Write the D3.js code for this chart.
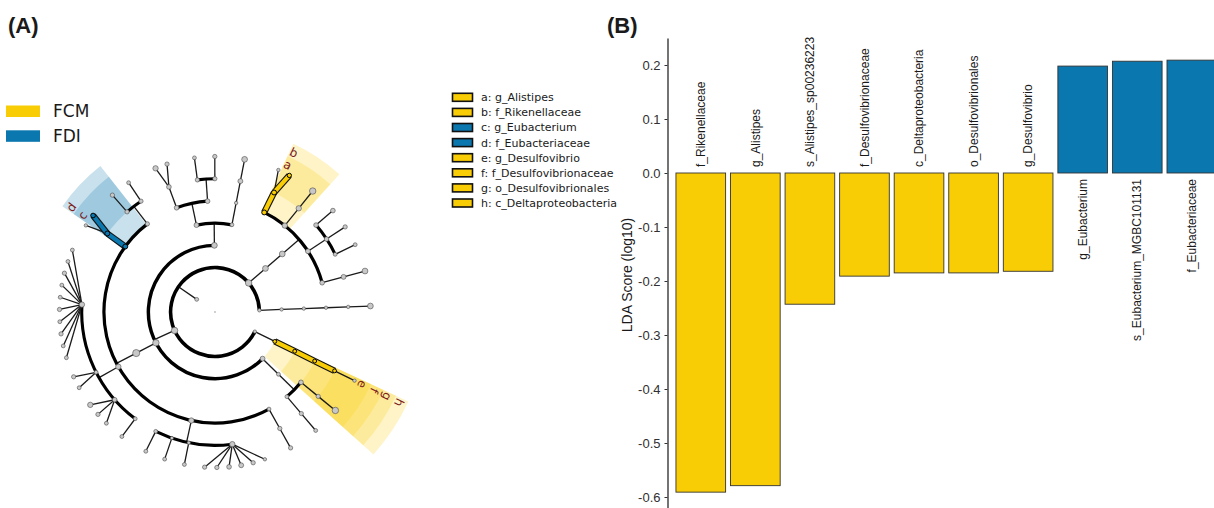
<!DOCTYPE html>
<html>
<head>
<meta charset="utf-8">
<script src="https://cdn.jsdelivr.net/npm/d3@7"></script>
<style>
  body { margin: 0; background: #fff; }
  svg { display: block; }
</style>
</head>
<body>
<svg id="chart" width="1214" height="508"></svg>
<script>
// ---- panel B: LDA scores ----
const barTaxa = ["f_Rikenellaceae", "g_Alistipes", "s_Alistipes_sp00236223", "f_Desulfovibrionaceae",
  "c_Deltaproteobacteria", "o_Desulfovibrionales", "g_Desulfovibrio",
  "g_Eubacterium", "s_Eubacterium_MGBC101131", "f_Eubacteriaceae"];
const barScores = [-0.591, -0.579, -0.243, -0.191, -0.185, -0.185, -0.182, 0.198, 0.207, 0.209];
const barGroups = ["FCM", "FCM", "FCM", "FCM", "FCM", "FCM", "FCM", "FDI", "FDI", "FDI"];
const yTicks = [-0.6, -0.5, -0.4, -0.3, -0.2, -0.1, 0, 0.1, 0.2];

const groups = ["FCM", "FDI"];
const groupColors = ["#f9cd05", "#0a77ae"];

// ---- panel A: cladogram legend ----
const cladeLetters = ["a", "b", "c", "d", "e", "f", "g", "h"];
const cladeNames = ["g_Alistipes", "f_Rikenellaceae", "g_Eubacterium", "f_Eubacteriaceae",
  "g_Desulfovibrio", "f_Desulfovibrionaceae", "o_Desulfovibrionales", "c_Deltaproteobacteria"];
const cladeGroups = ["FCM", "FCM", "FDI", "FDI", "FCM", "FCM", "FCM", "FCM"];

// taxonomy tree: [id, parent, relative abundance], children listed clockwise
const taxa = [
  ["r", null, 1],
  ["k", "r", 13],
  ["p1", "k", 10],
  ["c_Deltaproteobacteria", "p1", 13],
  ["o_Desulfovibrionales", "c_Deltaproteobacteria", 13],
  ["f_Desulfovibrionaceae", "o_Desulfovibrionales", 13],
  ["g_Desulfovibrio", "f_Desulfovibrionaceae", 13],
  ["p1s1", "g_Desulfovibrio", 10],
  ["p2", "k", 36],
  ["p2c1", "p2", 21],
  ["p2c1o1", "p2c1", 13],
  ["p2c1o1f1", "p2c1o1", 19],
  ["p2c1o1f1g1", "p2c1o1f1", 16],
  ["p2c1o1f1g1s1", "p2c1o1f1g1", 36],
  ["p2c1o1f2", "p2c1o1", 13],
  ["p2c1o1f2g1", "p2c1o1f2", 16],
  ["p2c1o1f2g1s1", "p2c1o1f2g1", 13],
  ["p2c2", "p2", 36],
  ["p2c2o1", "p2c2", 44],
  ["p2c2o1f1", "p2c2o1", 13],
  ["p2c2o1f1g1", "p2c2o1f1", 16],
  ["p2c2o1f1g1s1", "p2c2o1f1g1", 16],
  ["p2c2o1f2", "p2c2o1", 25],
  ["p2c2o1f2g1", "p2c2o1f2", 25],
  ["p2c2o1f2g1s1", "p2c2o1f2g1", 10],
  ["p2c2o1f2g1s2", "p2c2o1f2g1", 16],
  ["p2c2o1f2g1s3", "p2c2o1f2g1", 21],
  ["p2c2o1f2g1s4", "p2c2o1f2g1", 19],
  ["p2c2o1f2g1s5", "p2c2o1f2g1", 16],
  ["p2c2o1f2g1s6", "p2c2o1f2g1", 16],
  ["p2c2o1f2g2", "p2c2o1f2", 10],
  ["p2c2o1f2g2s1", "p2c2o1f2g2", 13],
  ["p2c2o1f2g3", "p2c2o1f2", 10],
  ["p2c2o1f2g3s1", "p2c2o1f2g3", 13],
  ["p2c2o1f2g4", "p2c2o1f2", 13],
  ["p2c2o1f2g4s1", "p2c2o1f2g4", 13],
  ["p2c2o1f3", "p2c2o1", 25],
  ["p2c2o1f3g1", "p2c2o1f3", 13],
  ["p2c2o1f3g1s1", "p2c2o1f3g1", 13],
  ["p2c2o1f3g2", "p2c2o1f3", 19],
  ["p2c2o1f3g2s1", "p2c2o1f3g2", 13],
  ["p2c2o1f3g2s2", "p2c2o1f3g2", 16],
  ["p2c2o1f3g2s3", "p2c2o1f3g2", 25],
  ["p2c2o1f3g3", "p2c2o1f3", 13],
  ["p2c2o1f3g3s1", "p2c2o1f3g3", 13],
  ["p2c2o1f3g3s2", "p2c2o1f3g3", 16],
  ["p2c2o1f3g4", "p2c2o1f3", 25],
  ["p2c2o1f3g4s1", "p2c2o1f3g4", 13],
  ["p2c2o1f3g4s2", "p2c2o1f3g4", 13],
  ["p2c2o1f3g4s3", "p2c2o1f3g4", 16],
  ["p2c2o1f3g4s4", "p2c2o1f3g4", 13],
  ["p2c2o1f3g4s5", "p2c2o1f3g4", 16],
  ["p2c2o1f3g4s6", "p2c2o1f3g4", 13],
  ["p2c2o1f3g4s7", "p2c2o1f3g4", 13],
  ["p2c2o1f3g4s8", "p2c2o1f3g4", 16],
  ["p2c2o1f3g4s9", "p2c2o1f3g4", 13],
  ["p2c2o1f3g4s10", "p2c2o1f3g4", 13],
  ["f_Eubacteriaceae", "p2c2o1", 21],
  ["g_Eubacterium", "f_Eubacteriaceae", 21],
  ["p2c2o1f4g1s1", "g_Eubacterium", 10],
  ["s_Eubacterium_MGBC101131", "g_Eubacterium", 19],
  ["p2c2o1f5", "p2c2o1", 16],
  ["p2c2o1f5g1", "p2c2o1f5", 16],
  ["p2c2o1f5g1s1", "p2c2o1f5g1", 16],
  ["p2c2o1f5g2", "p2c2o1f5", 16],
  ["p2c2o1f5g2s1", "p2c2o1f5g2", 13],
  ["p2c3", "p2", 29],
  ["p2c3o1", "p2c3", 21],
  ["p2c3o1f1", "p2c3o1", 19],
  ["p2c3o1f1g1", "p2c3o1f1", 19],
  ["p2c3o1f1g1s1", "p2c3o1f1g1", 25],
  ["p2c3o1f1g1s2", "p2c3o1f1g1", 16],
  ["p2c3o1f2", "p2c3o1", 19],
  ["p2c3o1f2g1", "p2c3o1f2", 16],
  ["p2c3o1f2g1s1", "p2c3o1f2g1", 13],
  ["p2c3o1f2g2", "p2c3o1f2", 16],
  ["p2c3o1f2g2s1", "p2c3o1f2g2", 16],
  ["p2c3o2", "p2c3", 13],
  ["p2c3o2f1", "p2c3o2", 10],
  ["p2c3o2f1g1", "p2c3o2f1", 21],
  ["p2c3o2f1g1s1", "p2c3o2f1g1", 29],
  ["p3", "k", 36],
  ["p3c1", "p3", 29],
  ["p3c1o1", "p3c1", 29],
  ["f_Rikenellaceae", "p3c1o1", 21],
  ["g_Alistipes", "f_Rikenellaceae", 21],
  ["p3c1o1f1g1s1", "g_Alistipes", 10],
  ["s_Alistipes_sp00236223", "g_Alistipes", 16],
  ["p3c1o1f2", "p3c1o1", 25],
  ["p3c1o1f2g1", "p3c1o1f2", 25],
  ["p3c1o1f2g1s1", "p3c1o1f2g1", 36],
  ["p3c1o1f3", "p3c1o1", 21],
  ["p3c1o1f3g1", "p3c1o1f3", 19],
  ["p3c1o1f3g1s1", "p3c1o1f3g1", 19],
  ["p3c1o1f3g2", "p3c1o1f3", 19],
  ["p3c1o1f3g2s1", "p3c1o1f3g2", 16],
  ["p3c1o1f3g3", "p3c1o1f3", 13],
  ["p3c1o1f3g3s1", "p3c1o1f3g3", 13],
  ["p3c1o1f4", "p3c1o1", 19],
  ["p3c1o1f4g1", "p3c1o1f4", 21],
  ["p3c1o1f4g1s1", "p3c1o1f4g1", 29],
  ["p4", "k", 10],
  ["p4c1", "p4", 10],
  ["p4c1o1", "p4c1", 10],
  ["p4c1o1f1", "p4c1o1", 10],
  ["p4c1o1f1g1", "p4c1o1f1", 10],
  ["p4c1o1f1g1s1", "p4c1o1f1g1", 29]
];

const svg = d3.select("#chart");
const colorOf = d3.scaleOrdinal().domain(groups).range(groupColors);
const groupOfTaxon = new Map(barTaxa.map((t, i) => [t, barGroups[i]]));

// panel labels
svg.append("text").attr("x", 8).attr("y", 33).text("(A)")
  .style("font", "bold 22px 'Liberation Sans', Arial, sans-serif").attr("fill", "#1a1a1a");
svg.append("text").attr("x", 607).attr("y", 33).text("(B)")
  .style("font", "bold 22px 'Liberation Sans', Arial, sans-serif").attr("fill", "#1a1a1a");

// ================= cladogram =================
const cx = 215, cy = 312;
const toRad = d => d * Math.PI / 180;

const root = d3.stratify().id(d => d[0]).parentId(d => d[1])(taxa);
// extra spacing between leaves depends on the rank where the two lineages split
const splitSep = [2.9, 2.9, 2.5, 2.45, 2.3, 1.67, 1];
function splitDepth(a, b) {
  const anc = new Set(a.ancestors());
  let n = b;
  while (!anc.has(n)) n = n.parent;
  return n.depth;
}
d3.cluster().nodeSize([1, 1]).separation((a, b) => splitSep[splitDepth(a, b)])(root);

const angle = d3.scaleLinear().domain(d3.extent(root.leaves(), d => d.x)).range([26.2, 357.8]);
const radius = d3.scaleLinear().domain([0, 7]).range([0, 155.5]);
const nodeR = d3.scaleSqrt().domain([0, 50]).range([0, 3.8]);
const pt = (r, a) => [cx + r * Math.cos(toRad(a)), cy + r * Math.sin(toRad(a))];
const nodePt = n => pt(radius(n.depth), angle(n.x));
const labelR = depth => radius(7) + 8.5 + 13.7 * (6 - depth);

const byId = new Map(root.descendants().map(n => [n.id, n]));

// legend FCM / FDI
const gLeg = svg.append("g");
groups.forEach((g, i) => {
  gLeg.append("rect").attr("x", 6).attr("y", 105.5 + i * 24.8).attr("width", 34).attr("height", 11.5)
    .attr("fill", colorOf(g));
  gLeg.append("text").attr("x", 53).attr("y", 111.3 + i * 24.8).attr("dy", "0.36em").text(g)
    .style("font", "17px 'DejaVu Sans', sans-serif").attr("fill", "#1a1a1a");
});

// shaded wedges behind highlighted clades
const gW = svg.append("g").attr("transform", `translate(${cx},${cy})`);
const wedge = d3.arc();
cladeNames.forEach((name, i) => {
  const n = byId.get(name);
  const a0 = angle(n.x - 0.3), a1 = angle(n.x + 3.5);
  gW.append("path")
    .attr("d", wedge({ innerRadius: radius(n.depth), outerRadius: labelR(n.depth) + 8,
      startAngle: toRad(a0 + 90), endAngle: toRad(a1 + 90) }))
    .attr("fill", colorOf(cladeGroups[i])).attr("fill-opacity", 0.22);
});

// branches
const gT = svg.append("g");
root.descendants().filter(n => n.children && n.depth > 0).forEach(p => {
  const a = angle(p.x);
  if (p.children.every(c => !c.children)) {
    p.children.forEach(c => {
      gT.append("line").attr("x1", nodePt(p)[0]).attr("y1", nodePt(p)[1])
        .attr("x2", nodePt(c)[0]).attr("y2", nodePt(c)[1])
        .attr("stroke", "#1a1a1a").attr("stroke-width", 1.3);
    });
    return;
  }
  const r0 = radius(p.depth), r1 = radius(p.depth + 1);
  const s = pt(r0, a), e = pt(r1, a);
  gT.append("line").attr("x1", s[0]).attr("y1", s[1]).attr("x2", e[0]).attr("y2", e[1])
    .attr("stroke", "#1a1a1a").attr("stroke-width", 1.3);
  const angs = p.children.map(c => angle(c.x)).concat([a]);
  const lo = d3.min(angs), hi = d3.max(angs);
  if (hi - lo > 0.05) {
    const path = d3.path();
    path.arc(cx, cy, r1, toRad(lo), toRad(hi));
    gT.append("path").attr("d", path.toString()).attr("fill", "none")
      .attr("stroke", "#000").attr("stroke-width", 3.7 - 0.12 * p.depth);
  }
});

// coloured bars along enriched lineages
const gH = svg.append("g");
root.descendants().filter(n => n.parent && groupOfTaxon.has(n.id) && groupOfTaxon.has(n.parent.id)).forEach(c => {
  const a = nodePt(c.parent), b = nodePt(c);
  gH.append("line").attr("x1", a[0]).attr("y1", a[1]).attr("x2", b[0]).attr("y2", b[1])
    .attr("stroke", "#111").attr("stroke-width", 6.4);
  gH.append("line").attr("x1", a[0]).attr("y1", a[1]).attr("x2", b[0]).attr("y2", b[1])
    .attr("stroke", colorOf(groupOfTaxon.get(c.id))).attr("stroke-width", 4.2);
});

// nodes
const gN = svg.append("g");
root.descendants().forEach(n => {
  const p = nodePt(n);
  const hi = groupOfTaxon.get(n.id);
  if (n.depth === 0) {
    gN.append("circle").attr("cx", p[0]).attr("cy", p[1]).attr("r", 0.9).attr("fill", "#bbb");
    return;
  }
  gN.append("circle").attr("cx", p[0]).attr("cy", p[1]).attr("r", nodeR(n.data[2]))
    .attr("fill", hi ? colorOf(hi) : "#c8c8c8")
    .attr("stroke", hi ? "#000" : "#4a4a4a").attr("stroke-width", hi ? 1 : 0.6);
});

// clade letters
cladeNames.forEach((name, i) => {
  const n = byId.get(name);
  const a = angle(n.x), p = pt(labelR(n.depth), a);
  svg.append("text").attr("transform", `translate(${p[0]},${p[1]}) rotate(${a + 90})`)
    .attr("text-anchor", "middle").attr("dy", "0.35em").text(cladeLetters[i])
    .style("font", "12px 'DejaVu Sans', sans-serif").attr("fill", "#7b2020");
});

// clade legend
const gCL = svg.append("g");
cladeNames.forEach((name, i) => {
  const yy = 97.3 + i * 15.1;
  gCL.append("rect").attr("x", 452.5).attr("y", yy - 4).attr("width", 20).attr("height", 8)
    .attr("fill", colorOf(cladeGroups[i])).attr("stroke", "#111").attr("stroke-width", 1.6);
  gCL.append("text").attr("x", 481).attr("y", yy).attr("dy", "0.36em")
    .text(`${cladeLetters[i]}: ${name}`)
    .style("font", "11px 'DejaVu Sans', sans-serif").attr("fill", "#1a1a1a");
});

// ================= bar chart =================
const x = d3.scaleBand().domain(barTaxa).range([673.5, 1219.1]).paddingInner(0.09).paddingOuter(0.045);
const y = d3.scaleLinear().domain([-0.62, 0.25]).range([507.8, 38]);

const gB = svg.append("g");
gB.selectAll("rect").data(barTaxa).join("rect")
  .attr("x", d => x(d))
  .attr("width", x.bandwidth())
  .attr("y", (d, i) => Math.min(y(barScores[i]), y(0)))
  .attr("height", (d, i) => Math.abs(y(barScores[i]) - y(0)))
  .attr("fill", (d, i) => colorOf(barGroups[i]))
  .attr("stroke", "#333").attr("stroke-width", 0.9);

gB.selectAll("text.lab").data(barTaxa).join("text").attr("class", "lab")
  .attr("transform", (d, i) => `translate(${x(d) + x.bandwidth() / 2},${y(0) + (barScores[i] < 0 ? -6 : 6)}) rotate(-90)`)
  .attr("text-anchor", (d, i) => barScores[i] < 0 ? "start" : "end")
  .attr("dy", "0.35em")
  .text(d => d)
  .style("font", "12px 'Liberation Sans', Arial, sans-serif").attr("fill", "#1a1a1a");

const yAxis = svg.append("g").attr("transform", "translate(667.5,0)")
  .call(d3.axisLeft(y).tickValues(yTicks).tickFormat(d => d.toFixed(1)).tickSize(3).tickSizeOuter(0).tickPadding(4));
yAxis.select(".domain").attr("stroke", "#000").attr("stroke-width", 1.1);
yAxis.selectAll(".tick line").attr("stroke", "#333");
yAxis.selectAll(".tick text").style("font", "13px 'Liberation Sans', Arial, sans-serif").attr("fill", "#303030");

svg.append("text").attr("transform", "translate(627,275) rotate(-90)").attr("text-anchor", "middle")
  .attr("dy", "0.35em").text("LDA Score (log10)")
  .style("font", "14px 'Liberation Sans', Arial, sans-serif").attr("fill", "#1a1a1a");
</script>
</body>
</html>
